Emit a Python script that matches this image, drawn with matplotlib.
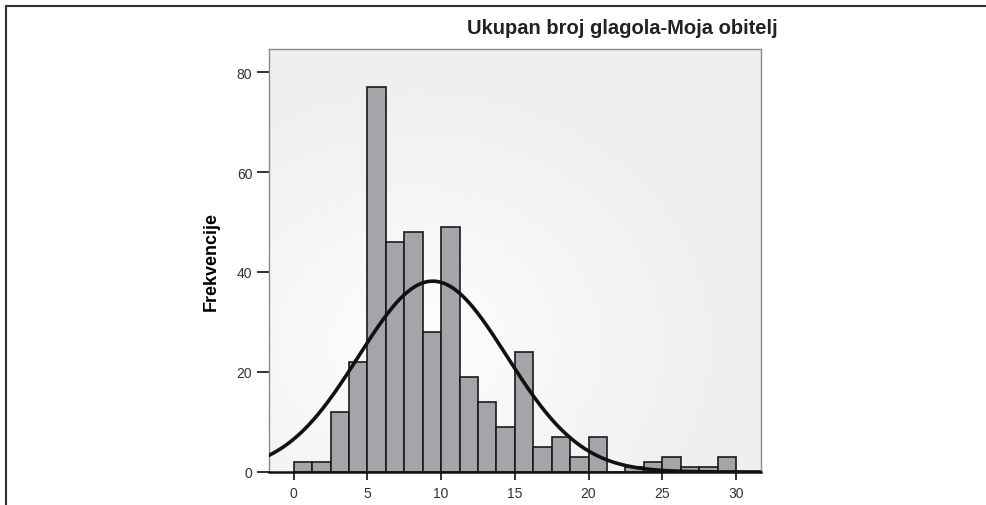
import numpy as np
import matplotlib
matplotlib.use("Agg")
import matplotlib.pyplot as plt
from matplotlib.lines import Line2D

# histogram of verb counts with fitted normal curve, saved to out.png

# bin edges (width 1.25) and counts
bin_edges = np.arange(0, 30.01, 1.25)
counts = [2, 2, 12, 22, 77, 46, 48, 28, 49, 19, 14, 9,
          24, 5, 7, 3, 7, 0, 1, 2, 3, 1, 1, 3]

# fitted normal curve parameters
curve_mean = 9.43
curve_sd = 5.03

x_ticks = [0, 5, 10, 15, 20, 25, 30]
y_ticks = [0, 20, 40, 60, 80]
title = "Ukupan broj glagola-Moja obitelj"
ylabel = "Frekvencije"

plt.rcParams["font.family"] = ["Liberation Sans", "DejaVu Sans"]

fig = plt.figure(figsize=(9.86, 5.06), dpi=100)
ax = fig.add_axes([269 / 986, 1 - 473 / 506, 492 / 986, 423 / 506])

ax.set_xlim(-1.68, 31.7)
ax.set_ylim(0, 84.6)

# soft gray gradient background, lighter toward lower left
gx, gy = np.meshgrid(np.linspace(0, 1, 300), np.linspace(0, 1, 200))
dist = np.sqrt(((gx - 0.3) / 0.9) ** 2 + ((gy - 0.3) / 0.9) ** 2)
shade = 1.0 - 0.065 * np.clip(dist / 0.7, 0, 1) ** 0.8
ax.imshow(shade, cmap="gray", vmin=0, vmax=1, extent=[0, 1, 0, 1],
          transform=ax.transAxes, origin="lower", aspect="auto", zorder=0,
          interpolation="bilinear")

widths = np.diff(bin_edges)
ax.bar(bin_edges[:-1], counts, width=widths, align="edge",
       color="#a4a5a9", edgecolor="#1a1a1a", linewidth=1.2, zorder=2)

n_total = sum(counts)
bw = widths[0]
xs = np.linspace(-1.68, 31.7, 400)
ys = n_total * bw / (curve_sd * np.sqrt(2 * np.pi)) * \
    np.exp(-0.5 * ((xs - curve_mean) / curve_sd) ** 2)
ax.plot(xs, ys, color="#111111", linewidth=2.6, zorder=3)

for side in ["top", "right", "left"]:
    ax.spines[side].set_color("#8a8a8a")
    ax.spines[side].set_linewidth(1.0)
ax.spines["bottom"].set_color("#111111")
ax.spines["bottom"].set_linewidth(1.8)
ax.spines["bottom"].set_zorder(4)

ax.set_xticks(x_ticks)
ax.set_yticks(y_ticks)
ax.tick_params(axis="x", length=6, width=1.3, color="#222222",
               labelsize=10, labelcolor="#333333", pad=4)
ax.tick_params(axis="y", length=9, width=1.3, color="#222222",
               labelsize=10, labelcolor="#333333", pad=3)

ax.set_ylabel(ylabel, fontsize=13, fontweight="bold", labelpad=12)
fig.text(778 / 986, 1 - 29 / 506, title, ha="right", va="center",
         fontsize=14.5, fontweight="bold", color="#222222")

# frame lines at top and left of the image
fig.add_artist(Line2D([6 / 986, 1], [1 - 7 / 506, 1 - 7 / 506],
                      transform=fig.transFigure, color="#333333", linewidth=1.5))
fig.add_artist(Line2D([6 / 986, 6 / 986], [0, 1 - 7 / 506],
                      transform=fig.transFigure, color="#333333", linewidth=1.5))

fig.savefig("out.png", dpi=100)
